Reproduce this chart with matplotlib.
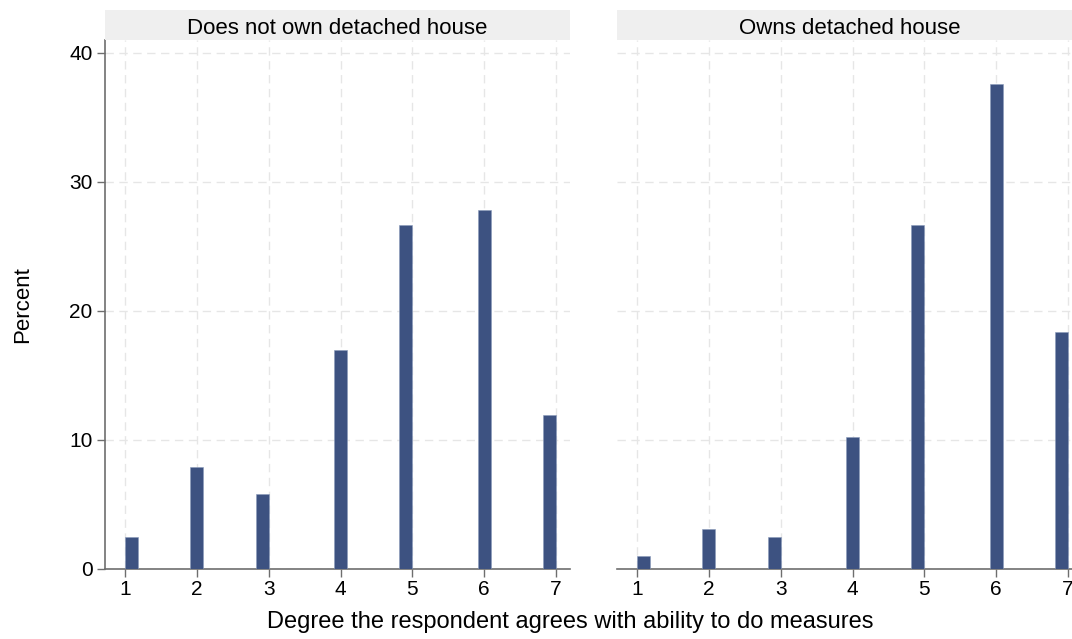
import numpy as np
import matplotlib
matplotlib.use("Agg")
from matplotlib import pyplot as plt

# rating categories and percentages per group
cats = np.array([1, 2, 3, 4, 5, 6, 7])
no_house = [2.5, 7.9, 5.8, 17.0, 26.7, 27.8, 11.9]
owns_house = [1.0, 3.1, 2.5, 10.2, 26.7, 37.6, 18.4]
panel_titles = ["Does not own detached house", "Owns detached house"]
yticks = [0, 10, 20, 30, 40]

plt.rcParams['font.family'] = ['Liberation Sans', 'DejaVu Sans']

# stata-style histogram: 33 right-closed bins over [1, 7]
nbins = 33
bw = 6 / nbins
idx = np.clip(np.ceil(np.round((cats - 1) / bw, 9)) - 1, 0, nbins - 1)
left = 1 + idx * bw

W, H = 1072, 639
fig = plt.figure(figsize=(W / 100, H / 100), dpi=100)
bar_col = '#3d5281'
grid_col = '#e6e6e6'
axis_col = '#6e6e6e'

boxes = [(105, 40, 465, 529), (617, 40, 465, 529)]
for k, (vals, title, (x0, y0, w, h)) in enumerate(zip([no_house, owns_house], panel_titles, boxes)):
    ax = fig.add_axes([x0 / W, 1 - (y0 + h) / H, w / W, h / H])
    ax.bar(left, vals, width=bw, align='edge', color=bar_col,
           edgecolor='#8a9bbb', linewidth=0.4, zorder=3)
    ax.set_xlim(0.72, 7.195)
    ax.set_ylim(0, 41.0)
    ax.set_xticks(cats)
    ax.set_yticks(yticks)
    ax.grid(True, color=grid_col, linestyle=(0, (6, 4)), linewidth=1.0, zorder=0)
    for s in ['top', 'right']:
        ax.spines[s].set_visible(False)
    ax.spines['bottom'].set_color(axis_col)
    ax.spines['bottom'].set_linewidth(1.2)
    ax.tick_params(axis='x', length=6, width=1, color=axis_col, labelsize=15, pad=2)
    if k == 0:
        ax.spines['left'].set_color(axis_col)
        ax.spines['left'].set_linewidth(1.2)
        ax.tick_params(axis='y', length=6, width=1, color=axis_col, labelsize=15, pad=3)
        ax.set_ylabel('Percent', fontsize=16, labelpad=26)
    else:
        ax.spines['left'].set_visible(False)
        ax.tick_params(axis='y', length=0, labelleft=False)
    # strip header
    strip = fig.add_axes([x0 / W, 1 - 40 / H, w / W, 30 / H])
    strip.set_facecolor('#efefef')
    strip.set_xticks([])
    strip.set_yticks([])
    for s in strip.spines.values():
        s.set_visible(False)
    strip.text(0.5, 0.4, title, ha='center', va='center', fontsize=16,
               transform=strip.transAxes)

fig.text(570 / W, 1 - 622 / H, 'Degree the respondent agrees with ability to do measures',
         ha='center', va='center', fontsize=17)

fig.savefig('out.png', dpi=100, facecolor='white')
